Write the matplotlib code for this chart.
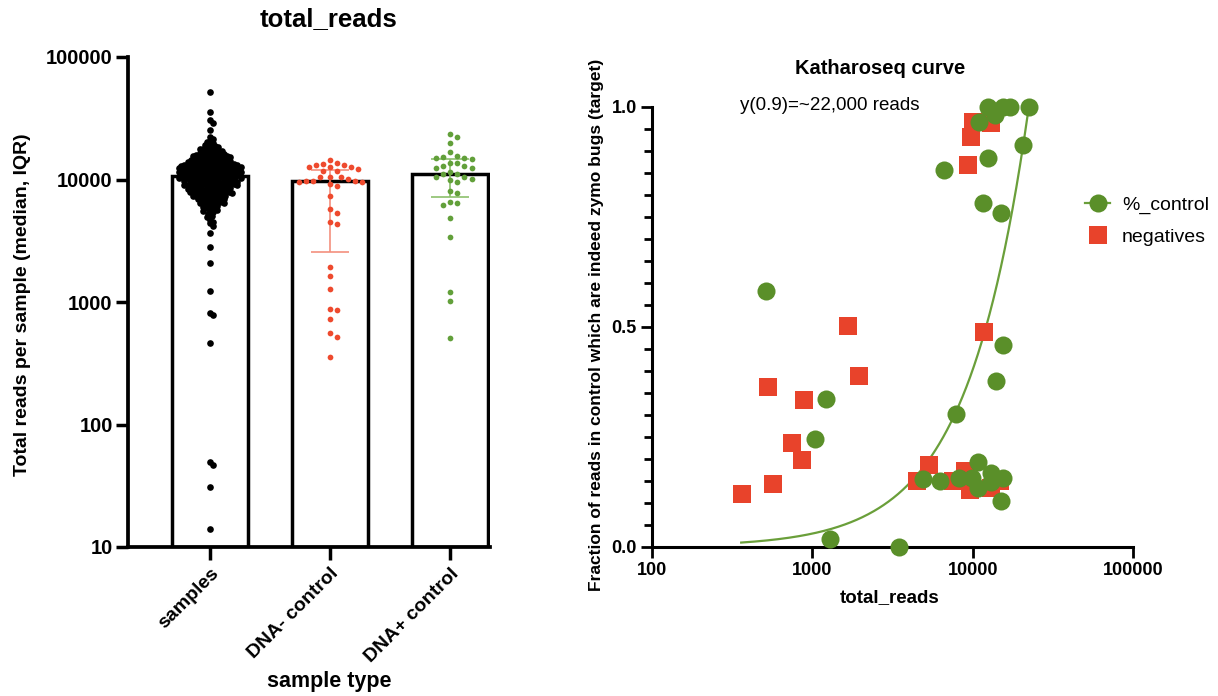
import numpy as np
import matplotlib
matplotlib.use("Agg")
import matplotlib.pyplot as plt
from matplotlib.lines import Line2D
from matplotlib.ticker import FixedLocator, NullLocator, FixedFormatter, MultipleLocator

plt.rcParams['font.family'] = ['Liberation Sans', 'DejaVu Sans']

# ---------------- left panel: reads per sample type ----------------
categories = ['samples', 'DNA- control', 'DNA+ control']

samples_reads = [
    51500, 35800, 30600, 29100, 25400,
    22300, 21400, 20800, 20150,
    19800, 19350, 19000, 18700, 18450, 18200, 17950, 17850,
    17650, 17500, 17300, 17100, 16950, 16800, 16700, 16550, 16400, 16300, 16150, 16050, 15950, 15880,
    15800, 15700, 15600, 15500, 15400, 15300, 15200, 15100, 15000, 14950, 14850, 14750, 14650, 14600,
    14500, 14450, 14350, 14300, 14200, 14150,
    14050, 13980, 13900, 13850, 13780, 13700, 13640, 13560, 13500, 13420, 13380, 13300, 13250, 13180,
    13100, 13050, 12980, 12920, 12880, 12820, 12780, 12740, 12700, 12680, 12650, 12620,
    13460, 13140, 12860, 12560, 12320, 12080, 11860, 11620, 11410, 11310,
    12580, 12530, 12480, 12430, 12390, 12340, 12300, 12250, 12200, 12150, 12100, 12060, 12010, 11970,
    11920, 11880, 11830, 11790, 11740, 11700, 11650, 11610, 11570, 11520, 11480, 11430, 11390, 11340,
    11290, 11240,
    11180, 11140, 11100, 11050, 11010, 10970, 10930, 10880, 10840, 10800, 10760, 10710, 10680, 10640,
    10600, 10560, 10520, 10480, 10440, 10400, 10370, 10330, 10290, 10250, 10220, 10180, 10140, 10100,
    10060, 10020,
    9970, 9930, 9880, 9840, 9790, 9750, 9710, 9660, 9620, 9580, 9540, 9500, 9460, 9420, 9380, 9340,
    9300, 9260, 9220, 9180, 9140, 9100, 9060, 9020, 8980, 8940,
    8860, 8800, 8740, 8680, 8620, 8560, 8500, 8450, 8390, 8340, 8280, 8230, 8180, 8130, 8080, 8040,
    8000, 7960,
    8710, 8470, 8260, 8020, 7850, 7690,
    7900, 7820, 7740, 7660, 7590, 7520, 7450, 7380, 7310, 7250, 7180, 7110,
    7560, 7400, 7220, 7060,
    7020, 6900, 6800, 6700, 6610, 6520, 6430, 6350,
    6960, 6740, 6560, 6390,
    6250, 6100, 5980, 5860, 5750, 5650,
    6180, 5920, 5560,
    5550, 5380, 5220, 5060,
    4920, 4700, 4520,
    4380, 4150,
    3690, 2790, 2100, 1230, 810, 790, 460, 49, 47, 31, 14,
]

neg_control_reads = [
    13390, 12710, 14420, 11730, 11730, 12710, 13130, 12580, 12110, 13560, 13130,
    10420, 10420, 9720, 9590, 9720, 9590, 8900, 9140, 9770, 10540, 10090,
    7330, 5740, 5360, 4480, 4360,
    1940, 1640, 1270, 877, 861, 727, 559, 518, 356,
]

pos_control_reads = [
    23390, 22350, 19950, 16670, 15560, 15170, 15070, 14900, 14690,
    13560, 13560, 12970, 12970, 12490, 12490,
    11460, 11020, 11020, 10540, 10420, 10040, 9910, 9590,
    8110, 7710, 6590, 6470, 6200, 4820, 3410,
    1200, 1020, 506,
]

group_reads = [samples_reads, neg_control_reads, pos_control_reads]
group_colors = ['#000000', '#ee4a2e', '#62a03a']
errbar_colors = ['#000000', '#f3907e', '#8cc06c']

# ---------------- right panel: Katharoseq curve ----------------
control_reads = [515, 1220, 1037, 1280, 3450, 7870, 10740, 4880, 6300, 8220, 9920, 10740,
                 12970, 12970, 15500, 15000, 15500, 14060, 6640, 12430, 11560, 14930,
                 20460, 11020, 13690, 12430, 15440, 17010, 22400]
control_frac = [0.582, 0.335, 0.245, 0.017, 0.0, 0.302, 0.192, 0.155, 0.150, 0.157, 0.157, 0.134,
                0.168, 0.146, 0.157, 0.104, 0.458, 0.376, 0.856, 0.883, 0.780, 0.758,
                0.913, 0.966, 0.981, 1.0, 1.0, 1.0, 1.0]

negative_reads = [363, 570, 528, 745, 866, 893, 1660, 1960, 11780, 4480, 5340, 7590, 8910,
                  9640, 12970, 14830, 10000, 9770, 13050, 9300]
negative_frac = [0.119, 0.142, 0.364, 0.235, 0.196, 0.333, 0.501, 0.388, 0.489, 0.149, 0.185,
                 0.149, 0.172, 0.130, 0.134, 0.149, 0.966, 0.932, 0.962, 0.8675]

# fitted curve: fraction = (reads / fit_full_reads) ** fit_exponent
fit_full_reads = 22400
fit_exponent = 1.13
fit_start_reads = 360

GREEN = '#5a8f29'
RED = '#e8432b'

fig = plt.figure(figsize=(12.18, 6.96), dpi=100)
W, H = 1218.0, 696.0


def box(l, t, r, b):
    return [l / W, 1 - b / H, (r - l) / W, (b - t) / H]


ax1 = fig.add_axes(box(128, 57, 490, 547))
ax2 = fig.add_axes(box(652, 106.7, 1133, 546.7))

# ---------- left axes ----------
y_floor = 10
ax1.set_yscale('log')
ax1.set_ylim(y_floor, 100000)
ax1.set_xlim(-0.683, 2.333)
xpos = np.arange(len(categories))


def swarm_x(ax, xc, values, dot_px, half_px):
    """Beeswarm layout computed in display pixels."""
    pts = ax.transData.transform(np.column_stack([np.full(len(values), xc), values]))
    ys = pts[:, 1]
    order = np.argsort(-ys)
    step = dot_px / 2.0
    n = int(half_px // step)
    cands = [0.0]
    for k in range(1, n + 1):
        cands += [k * step, -k * step]
    placed = []
    offs = np.zeros(len(values))
    for i in order:
        y = ys[i]
        best, best_gap = 0.0, -1.0
        for c in cands:
            if placed:
                p = np.array(placed)
                gap = np.min(np.hypot(p[:, 0] - c, p[:, 1] - y))
            else:
                gap = np.inf
            if gap >= dot_px:
                best = c
                break
            if gap > best_gap:
                best_gap, best = gap, c
        offs[i] = best
        placed.append((best, y))
    px_per_unit = ax.transData.transform([(1, 1)])[0, 0] - ax.transData.transform([(0, 1)])[0, 0]
    return xc + offs / px_per_unit


medians, q1s, q3s = [], [], []
for vals in group_reads:
    q1, med, q3 = np.percentile(vals, [25, 50, 75], method='weibull')
    medians.append(med)
    q1s.append(q1)
    q3s.append(q3)

ax1.bar(xpos, np.array(medians) - y_floor, bottom=y_floor, width=0.633, color='white',
        edgecolor='black', linewidth=2.5, zorder=1)

for i, vals in enumerate(group_reads):
    ax1.errorbar(xpos[i], medians[i], yerr=[[medians[i] - q1s[i]], [q3s[i] - medians[i]]],
                 fmt='none', ecolor=errbar_colors[i], elinewidth=1.2, capsize=14, capthick=1.2,
                 zorder=2)

swarm_params = [(3.4, 31), (7.0, 40), (7.2, 40)]
dot_sizes = [23, 17, 17]
for i, vals in enumerate(group_reads):
    dp, hp = swarm_params[i]
    xs = swarm_x(ax1, xpos[i], vals, dp, hp)
    ax1.scatter(xs, vals, s=dot_sizes[i], color=group_colors[i], linewidths=0, zorder=3,
                clip_on=False)

ax1.yaxis.set_major_locator(FixedLocator([10, 100, 1000, 10000, 100000]))
ax1.yaxis.set_minor_locator(NullLocator())
ax1.yaxis.set_major_formatter(FixedFormatter(['10', '100', '1000', '10000', '100000']))
ax1.set_xticks(xpos)
ax1.set_xticklabels(categories, rotation=45, ha='right', va='top', rotation_mode='anchor',
                    fontsize=14, fontweight='bold')
for lab in ax1.get_yticklabels():
    lab.set_fontsize(14.5)
    lab.set_fontweight('bold')
ax1.tick_params(axis='y', length=9, width=2.5, pad=2, color='black')
ax1.tick_params(axis='x', length=9, width=2.5, pad=4, color='black')
for s in ['top', 'right']:
    ax1.spines[s].set_visible(False)
for s in ['left', 'bottom']:
    ax1.spines[s].set_linewidth(2.7)

fig.text(329 / W, 1 - 19 / H, 'total_reads', ha='center', va='center', fontsize=18.5,
         fontweight='bold')
fig.text(23 / W, 1 - 305 / H, 'Total reads per sample (median, IQR)', ha='center',
         va='center', rotation=90, fontsize=14, fontweight='bold')
fig.text(329 / W, 1 - 681 / H, 'sample type', ha='center', va='center', fontsize=15.5,
         fontweight='bold')

# ---------- right axes ----------
ax2.set_xscale('log')
ax2.set_xlim(100, 100000)
ax2.set_ylim(0, 1)

fit_x = np.logspace(np.log10(fit_start_reads), np.log10(fit_full_reads), 300)
fit_y = (fit_x / fit_full_reads) ** fit_exponent
ax2.plot(fit_x, fit_y, color='#6a9f3a', lw=1.6, zorder=2, clip_on=False)

ax2.plot(negative_reads, negative_frac, ls='none', marker='s', markersize=13.3,
         markerfacecolor=RED, markeredgecolor=RED, markeredgewidth=0, zorder=3, clip_on=False)
ax2.plot(control_reads, control_frac, ls='none', marker='o', markersize=13,
         markerfacecolor=GREEN, markeredgecolor=GREEN, markeredgewidth=0, zorder=4,
         clip_on=False)

ax2.xaxis.set_major_locator(FixedLocator([100, 1000, 10000, 100000]))
ax2.xaxis.set_minor_locator(NullLocator())
ax2.xaxis.set_major_formatter(FixedFormatter(['100', '1000', '10000', '100000']))
ax2.yaxis.set_major_locator(FixedLocator([0.0, 0.5, 1.0]))
ax2.yaxis.set_major_formatter(FixedFormatter(['0.0', '0.5', '1.0']))
ax2.yaxis.set_minor_locator(MultipleLocator(0.05))
for lab in ax2.get_xticklabels() + ax2.get_yticklabels():
    lab.set_fontsize(13)
    lab.set_fontweight('bold')
ax2.tick_params(axis='both', which='major', length=8, width=2.0, pad=3)
ax2.tick_params(axis='y', which='minor', length=6, width=2.0)
for s in ['top', 'right']:
    ax2.spines[s].set_visible(False)
for s in ['left', 'bottom']:
    ax2.spines[s].set_linewidth(2.2)

fig.text(880 / W, 1 - 68 / H, 'Katharoseq curve', ha='center', va='center', fontsize=14.5,
         fontweight='bold')
fig.text(597 / W, 1 - 325 / H, 'Fraction of reads in control which are indeed zymo bugs (target)',
         ha='center', va='center', rotation=90, fontsize=12.5, fontweight='bold')
fig.text(890 / W, 1 - 598 / H, 'total_reads', ha='center', va='center', fontsize=13.5,
         fontweight='bold')
ax2.text((740 - 652) / (1133 - 652), 1.003, 'y(0.9)=~22,000 reads',
         transform=ax2.transAxes, ha='left', va='center', fontsize=13.5)

handles = [
    Line2D([0], [0], color='#6a9f3a', lw=1.6, marker='o', markersize=13,
           markerfacecolor=GREEN, markeredgewidth=0),
    Line2D([0], [0], lw=0, marker='s', markersize=13, markerfacecolor=RED, markeredgewidth=0),
]
fig.legend(handles, ['%_control', 'negatives'], loc='center left',
           bbox_to_anchor=(1085 / W, 1 - 221 / H), frameon=False, fontsize=14,
           handlelength=1.3, handletextpad=0.6, labelspacing=0.7, borderpad=0,
           borderaxespad=0)

fig.savefig('out.png', dpi=100)
